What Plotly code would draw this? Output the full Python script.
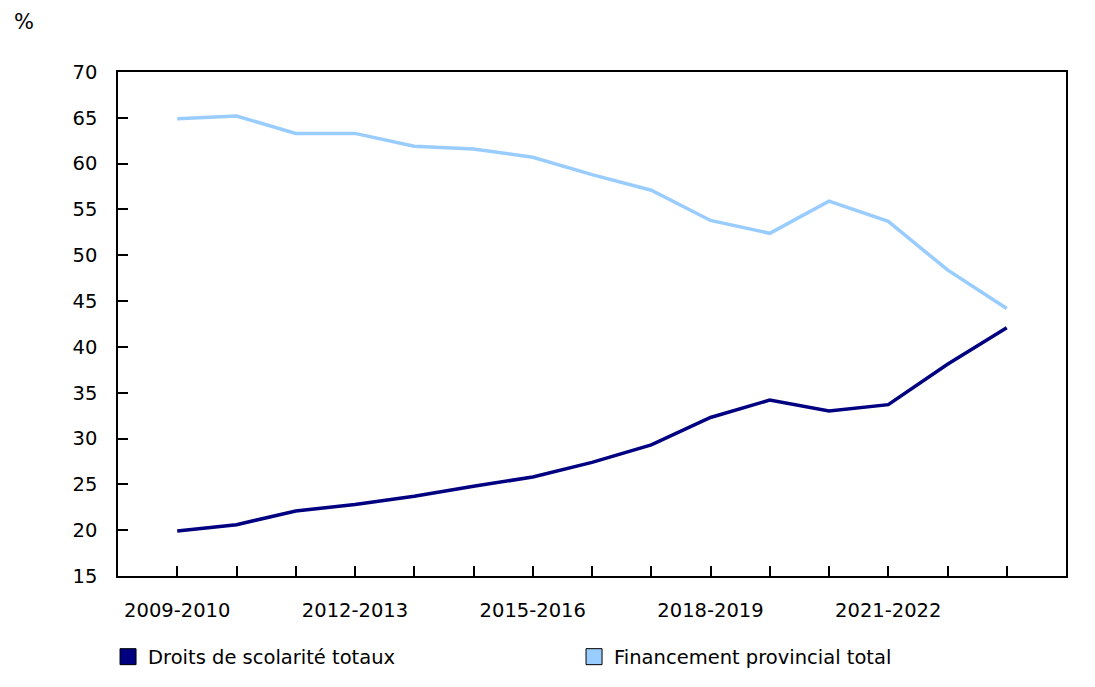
import plotly.graph_objects as go

# School years shown on the x axis
years = [
    "2009-2010", "2010-2011", "2011-2012", "2012-2013", "2013-2014",
    "2014-2015", "2015-2016", "2016-2017", "2017-2018", "2018-2019",
    "2019-2020", "2020-2021", "2021-2022", "2022-2023", "2023-2024",
]

# Share of revenue (%)
droits_scolarite = [19.9, 20.6, 22.1, 22.8, 23.7, 24.8, 25.8, 27.4, 29.3,
                    32.3, 34.2, 33.0, 33.7, 38.1, 42.1]
financement_provincial = [64.9, 65.2, 63.3, 63.3, 61.9, 61.6, 60.7, 58.8, 57.1,
                          53.8, 52.4, 55.9, 53.7, 48.4, 44.2]

# only every third year gets a label
tick_labels = [y if i % 3 == 0 else "" for i, y in enumerate(years)]

dark = "#000080"
light = "#99CCFF"
font_name = "DejaVu Sans"
fsize = 19.5

fig = go.Figure()

fig.add_trace(go.Scatter(x=years, y=droits_scolarite, mode="lines",
                         line=dict(color=dark, width=3.5), showlegend=False))
fig.add_trace(go.Scatter(x=years, y=financement_provincial, mode="lines",
                         line=dict(color=light, width=3.5), showlegend=False))

# legend entries drawn as squares, like the original
for name, col in [("Droits de scolarité totaux", dark),
                  ("Financement provincial total", light)]:
    fig.add_trace(go.Scatter(x=[None], y=[None], mode="markers", name=name,
                             marker=dict(symbol="square", size=16, color=col,
                                         line=dict(color="black", width=1))))

# page body adds ~7px offset, so the figure is a bit smaller than the window
fig.update_layout(
    width=1088, height=680,
    margin=dict(l=110, r=30, t=64, b=109),
    paper_bgcolor="white", plot_bgcolor="white",
    font=dict(family=font_name, size=fsize, color="black"),
    legend=dict(orientation="h", x=-0.0105, xanchor="left", y=-0.122, yanchor="top",
                entrywidth=421, entrywidthmode="pixels",
                font=dict(size=fsize), itemsizing="trace"),
    annotations=[dict(text="%", xref="paper", yref="paper", x=-0.112, y=1.072,
                      xanchor="left", yanchor="bottom", showarrow=False,
                      font=dict(size=21))],
)

fig.update_xaxes(
    type="category", range=[-1, len(years)],
    tickvals=years, ticktext=tick_labels,
    ticks="inside", ticklen=10, tickwidth=1.5, tickcolor="black",
    showline=True, linecolor="black", linewidth=1.5, mirror=True,
    showgrid=False, ticklabelstandoff=16,
)
fig.update_yaxes(
    range=[15, 70], dtick=5, tick0=15,
    ticks="inside", ticklen=10, tickwidth=1.5, tickcolor="black",
    showline=True, linecolor="black", linewidth=1.5, mirror=True,
    showgrid=False, zeroline=False, ticklabelstandoff=15,
)

fig.write_html("out.html")
